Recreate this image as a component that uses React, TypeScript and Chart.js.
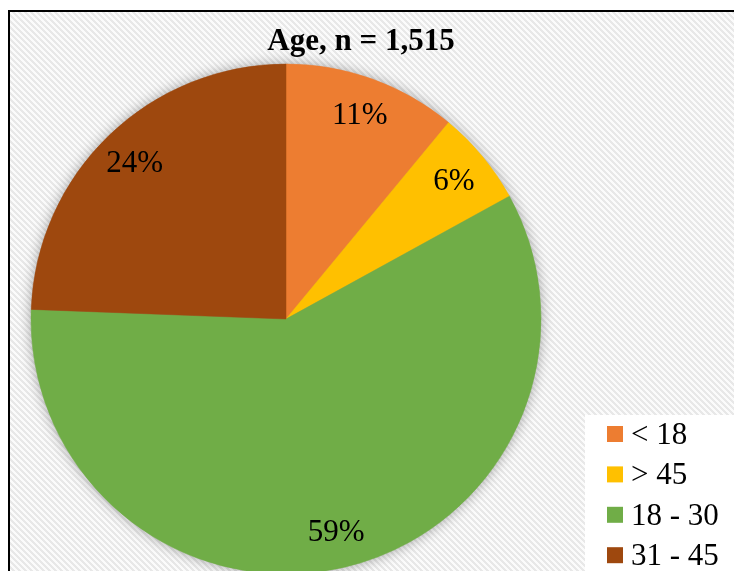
import React, { useEffect, useRef } from "react";
import { Chart, registerables } from "chart.js";

Chart.register(...registerables);

const TITLE = "Age, n = 1,515";
const categories = ["< 18", "> 45", "18 - 30", "31 - 45"];
const shares = [11, 6, 58.6, 24.4];
const colors = ["#ED7D31", "#FFC000", "#70AD47", "#9E480E"];

const W = 726;
const H = 563;
const CX = 278;
const CY = 311;
const R = 255;
const FONT = '"Liberation Serif", "Times New Roman", serif';

export default function App() {
  const ref = useRef<HTMLCanvasElement>(null);

  useEffect(() => {
    const prevOverflow = document.body.style.overflow;
    document.body.style.overflow = "hidden";
    const canvas = ref.current!;

    const pc = document.createElement("canvas");
    pc.width = 6;
    pc.height = 6;
    const pctx = pc.getContext("2d")!;
    pctx.fillStyle = "#fbfbfb";
    pctx.fillRect(0, 0, 6, 6);
    pctx.fillStyle = "#e8e8e8";
    for (let y = 0; y < 6; y++)
      for (let x = 0; x < 6; x++)
        if ((((x - y) % 6) + 6) % 6 < 3) pctx.fillRect(x, y, 1, 1);

    const decor = {
      id: "decor",
      beforeDraw(chart: any) {
        const ctx = chart.ctx as CanvasRenderingContext2D;
        ctx.save();
        ctx.fillStyle = "#ffffff";
        ctx.fillRect(0, 0, W, H);
        const pat = ctx.createPattern(pc, "repeat");
        if (pat) {
          ctx.fillStyle = pat;
          ctx.fillRect(0, 2, W, H - 2);
        }
        ctx.fillStyle = "#000000";
        ctx.fillRect(0, 2, W, 2);
        ctx.fillRect(0, 2, 2, H - 2);
        ctx.restore();
      },
      beforeDatasetsDraw(chart: any) {
        const meta = chart.getDatasetMeta(0);
        const arc = meta.data[0];
        if (!arc) return;
        const ctx = chart.ctx as CanvasRenderingContext2D;
        ctx.save();
        ctx.shadowColor = "rgba(0,0,0,0.4)";
        ctx.shadowBlur = 14;
        ctx.fillStyle = "#8a8a8a";
        ctx.beginPath();
        ctx.arc(arc.x, arc.y, arc.outerRadius - 1, 0, Math.PI * 2);
        ctx.fill();
        ctx.restore();
      },
      afterDatasetsDraw(chart: any) {
        const ctx = chart.ctx as CanvasRenderingContext2D;
        const meta = chart.getDatasetMeta(0);
        const data = chart.data.datasets[0].data as number[];
        const total = data.reduce((a, b) => a + b, 0);
        ctx.save();
        ctx.fillStyle = "#000000";
        ctx.textAlign = "center";
        ctx.textBaseline = "alphabetic";
        ctx.font = `31px ${FONT}`;
        meta.data.forEach((el: any, i: number) => {
          const { x, y, startAngle, endAngle, outerRadius } = el.getProps(
            ["x", "y", "startAngle", "endAngle", "outerRadius"],
            true
          );
          const mid = (startAngle + endAngle) / 2;
          const d = outerRadius * 0.855;
          const lx = x + Math.cos(mid) * d;
          const ly = y + Math.sin(mid) * d;
          const pct = Math.round((data[i] / total) * 100) + "%";
          ctx.fillText(pct, lx, ly + 10);
        });

        // title
        ctx.font = `bold 31px ${FONT}`;
        ctx.fillText(TITLE, 353, 42);

        // legend
        ctx.fillStyle = "#ffffff";
        ctx.fillRect(577, 407, W - 577, H - 407);
        ctx.textAlign = "left";
        ctx.font = `31px ${FONT}`;
        const labels = chart.data.labels as string[];
        labels.forEach((lab, i) => {
          const cy = 426 + i * 40.4;
          ctx.fillStyle = colors[i];
          ctx.fillRect(599, cy - 8, 16, 16);
          ctx.fillStyle = "#000000";
          ctx.fillText(lab, 623, cy + 10);
        });
        ctx.restore();
      },
    };

    const chart = new Chart(canvas, {
      type: "pie",
      data: {
        labels: categories,
        datasets: [
          {
            data: shares,
            backgroundColor: colors,
            borderColor: colors,
            borderWidth: 0.5,
            radius: R,
          } as any,
        ],
      },
      options: {
        animation: false,
        responsive: false,
        devicePixelRatio: 1,
        events: [],
        layout: {
          padding: { left: 0, right: W - 2 * CX, top: 2 * CY - H, bottom: 0 },
        },
        plugins: {
          legend: { display: false },
          tooltip: { enabled: false },
          title: { display: false },
        },
      } as any,
      plugins: [decor],
    });

    return () => {
      chart.destroy();
      document.body.style.overflow = prevOverflow;
    };
  }, []);

  return (
    <div style={{ position: "fixed", left: 8, top: 8, width: W, height: H }}>
      <canvas ref={ref} width={W} height={H} style={{ display: "block", width: W, height: H }} />
    </div>
  );
}
